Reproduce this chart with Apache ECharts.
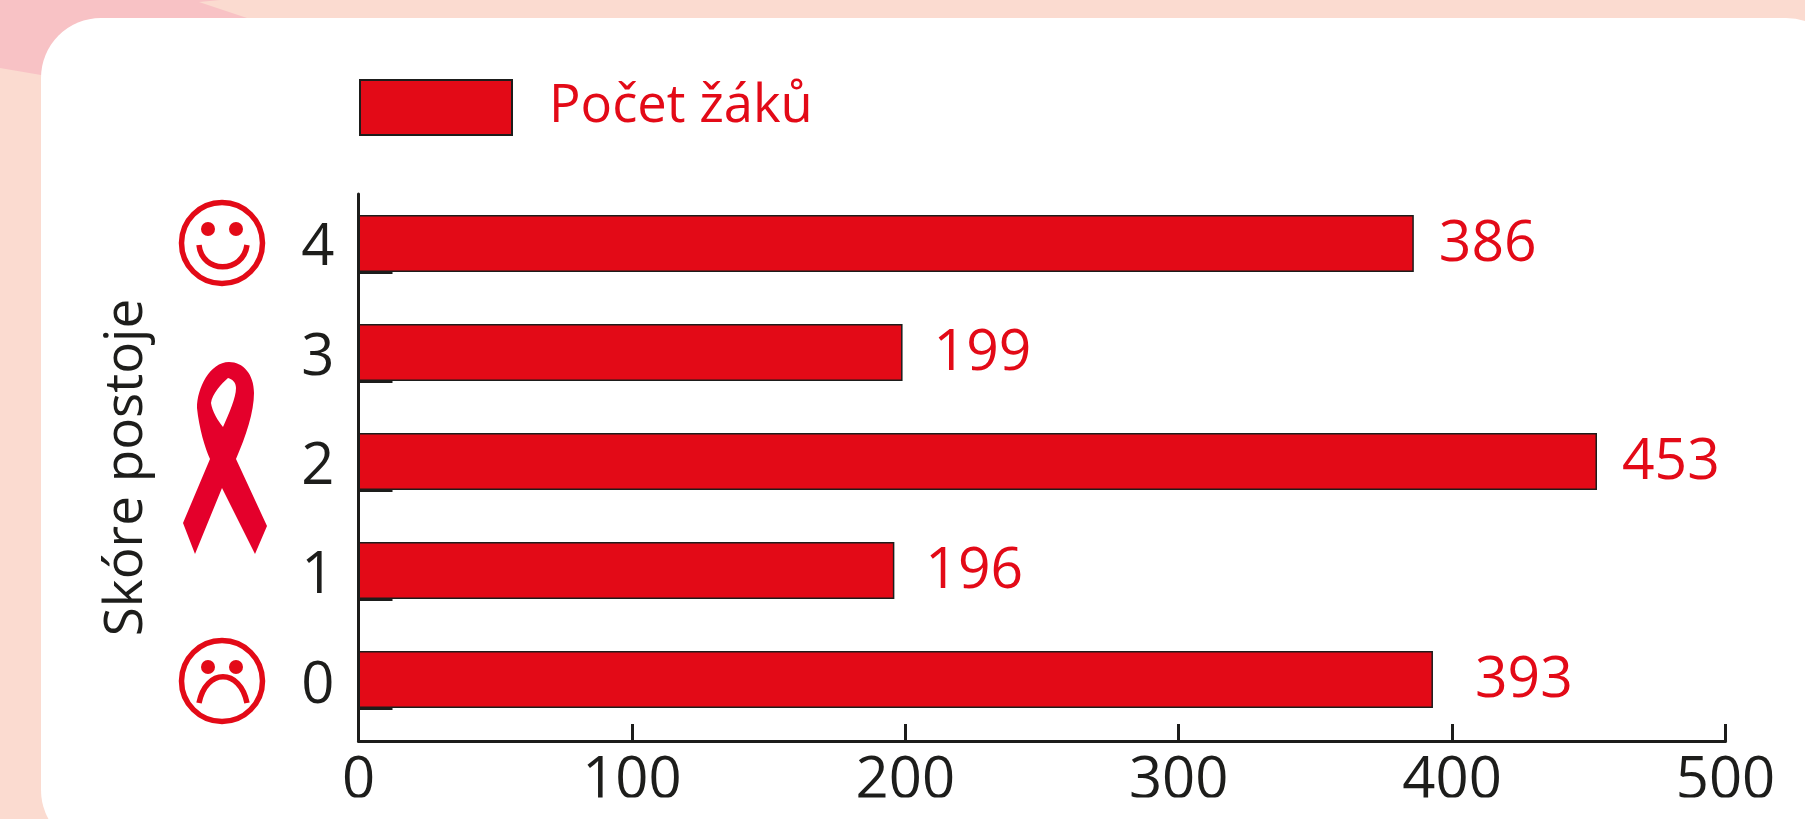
<!DOCTYPE html>
<html>
<head>
<meta charset="utf-8">
<title>Počet žáků</title>
<style>
html, body { margin: 0; padding: 0; background: #fbdbd0; }
#main { width: 1805px; height: 819px; }
</style>
<script src="https://cdn.jsdelivr.net/npm/echarts@6/dist/echarts.min.js"></script>
</head>
<body>
<div id="main"></div>
<script>
var categories = ['0', '1', '2', '3', '4'];
var pocetZaku = [393, 196, 453, 199, 386];
var xTicks = [0, 100, 200, 300, 400, 500];
var seriesName = 'Počet žáků';
var yName = 'Skóre postoje';
// the value labels do not sit at one fixed distance in the picture
var labelGaps = [42, 31, 25, 31, 25];

var red = '#e30a17';
var dark = '#1d1d1b';
var font = '"Open Sans"';

// graphic has no plain path type, so the ribbon is registered as a shape
echarts.graphic.registerShape('ribbon', echarts.graphic.extendPath(
	'M229,362 C210,362 197,388 197,408 C199,428 205,448 210,459 L183,523 L195,554 L222,488 L255,554 L267,526 L236,459 C246,436 254,412 254,393 C254,374 243,362 229,362 Z ' +
	'M228,378 C232,379 236,382 236,388 C236,398 229,413 223,427 C218,421 212,411 211,403 C212,394 222,383 228,378 Z', {}
));

var myChart = echarts.init(document.getElementById('main'));

var smile = function (cy, happy) {
	var mouth = happy
		? { x1: 199, y1: cy + 2, cpx1: 202, cpy1: cy + 31, cpx2: 243, cpy2: cy + 31, x2: 247, y2: cy + 2 }
		: { x1: 199, y1: cy + 22, cpx1: 206, cpy1: cy - 13, cpx2: 240, cpy2: cy - 13, x2: 247, y2: cy + 22 };
	return [
		{ type: 'circle', shape: { cx: 222, cy: cy, r: 40.5 }, style: { fill: 'none', stroke: red, lineWidth: 5.5 } },
		{ type: 'circle', shape: { cx: 208, cy: cy - 14, r: 7 }, style: { fill: red } },
		{ type: 'circle', shape: { cx: 236, cy: cy - 14, r: 7 }, style: { fill: red } },
		{ type: 'bezierCurve', shape: mouth, style: { fill: 'none', stroke: red, lineWidth: 5.5 } }
	];
};

var option = {
	animation: false,
	backgroundColor: '#fbdbd0',
	textStyle: { fontFamily: font },
	legend: {
		left: 359,
		top: 79,
		padding: 0,
		icon: 'rect',
		itemWidth: 152,
		itemHeight: 55,
		data: [seriesName],
		textStyle: { color: red, fontSize: 52.5, fontFamily: font, padding: [2, 0, 0, 32] }
	},
	// grid 0 holds the bars, grid 1 holds the visible axes (ticks sit off the band centres)
	grid: [
		{ left: 358.5, top: 189, width: 1367, height: 545 },
		{ left: 358.5, top: 194, width: 1367, height: 547 }
	],
	xAxis: [
		{ gridIndex: 0, type: 'value', min: 0, max: 500, show: false },
		{
			gridIndex: 1,
			type: 'value',
			min: 0,
			max: 500,
			interval: 100,
			splitLine: { show: false },
			axisLine: { show: true, onZero: false, lineStyle: { color: dark, width: 3 } },
			axisTick: { show: true, inside: true, length: 17, lineStyle: { color: dark, width: 3 } },
			axisLabel: { color: dark, fontSize: 58, margin: 11, fontFamily: font, customValues: xTicks }
		}
	],
	yAxis: [
		{ gridIndex: 0, type: 'category', data: categories, show: false },
		{
			gridIndex: 1,
			type: 'value',
			position: 'left',
			min: -0.3,
			max: 4.72,
			name: yName,
			nameLocation: 'middle',
			nameGap: 205,
			nameTextStyle: { color: dark, fontSize: 53, fontFamily: font },
			splitLine: { show: false },
			axisLine: { show: true, onZero: false, lineStyle: { color: dark, width: 3 } },
			axisTick: { show: true, inside: true, length: 34, customValues: [0, 1, 2, 3, 4], lineStyle: { color: dark, width: 3 } },
			axisLabel: { show: false }
		},
		{
			gridIndex: 1,
			type: 'category',
			position: 'left',
			data: categories,
			axisLine: { show: false },
			axisTick: { show: false },
			axisLabel: { color: dark, fontSize: 58, margin: 24, fontFamily: font }
		}
	],
	series: [
		{
			name: seriesName,
			type: 'bar',
			xAxisIndex: 0,
			yAxisIndex: 0,
			data: pocetZaku.map(function (v, i) {
				return { value: v, label: { distance: labelGaps[i] } };
			}),
			barWidth: 57,
			z: 3,
			itemStyle: { color: red, borderColor: dark, borderWidth: 1.5 },
			label: { show: true, position: 'right', color: red, fontSize: 57, fontFamily: font, offset: [0, 1] }
		}
	],
	graphic: [
		// page background and white panel
		{ type: 'polygon', silent: true, z: -10, shape: { points: [[0, 0], [220, 0], [199, 2], [247, 18], [41, 75], [0, 68]] }, style: { fill: '#f8c2c5' } },
		{ type: 'rect', silent: true, z: -5, shape: { x: 41, y: 18, width: 1805, height: 832, r: 60 }, style: { fill: '#ffffff' } }
	]
		.concat(smile(243, true))
		.concat(smile(681, false))
		.concat([
			{ type: 'ribbon', style: { fill: '#e4002b' } },
			// the source image is cut through the tick labels
			{ type: 'rect', silent: true, z: 100, shape: { x: 300, y: 797.5, width: 1505, height: 22 }, style: { fill: '#ffffff' } }
		])
};

myChart.setOption(option);
</script>
</body>
</html>
